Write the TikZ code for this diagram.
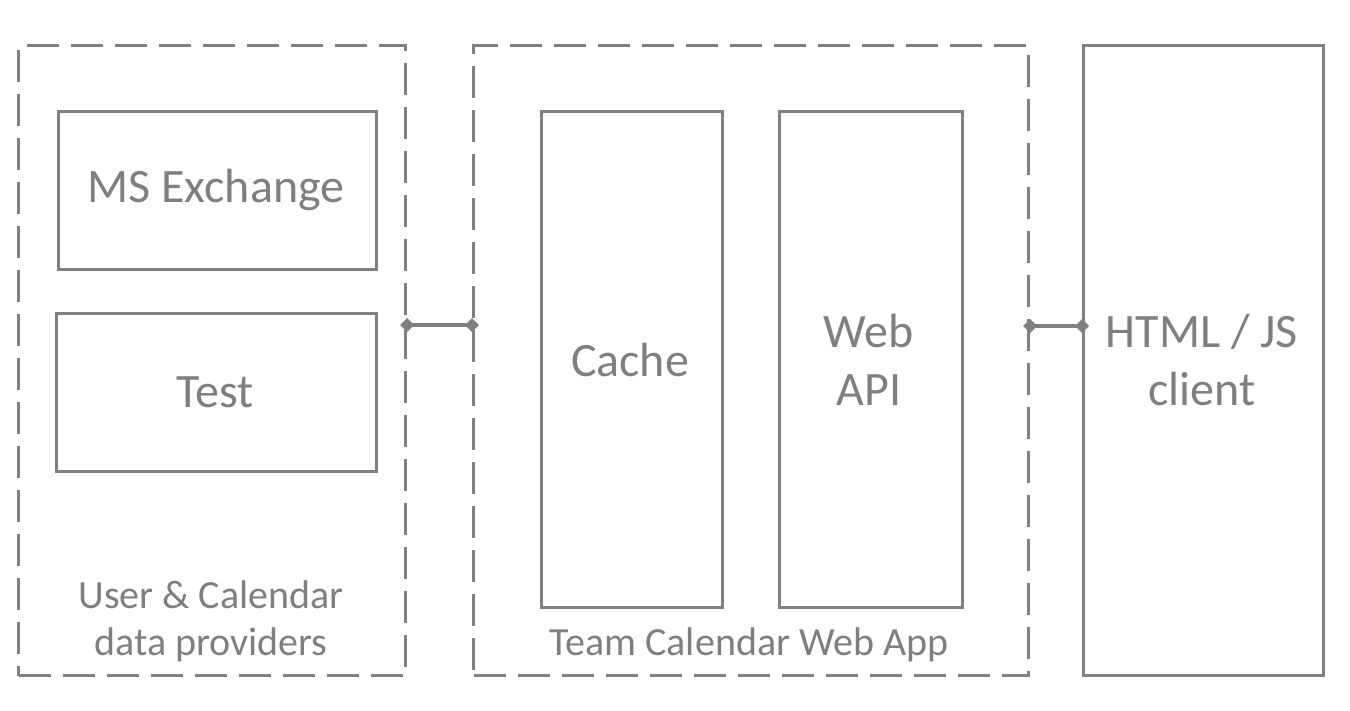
\documentclass[tikz,border=0pt]{standalone}
\usepackage{fontspec}
\setmainfont{Carlito}
\usetikzlibrary{arrows.meta}
\definecolor{lc}{HTML}{808080}
\definecolor{tc}{HTML}{7F7F7F}
\tikzset{
  grpbox/.style={draw=lc, line width=3.2pt, dash pattern=on 32pt off 12pt, rectangle, inner sep=0pt, anchor=north west},
  compbox/.style={draw=lc, line width=3.2pt, rectangle, inner sep=0pt, anchor=north west},
  bigtxt/.style={text=tc, align=center, font=\fontsize{48}{58}\selectfont},
  smalltxt/.style={text=tc, align=center, font=\fontsize{40}{47}\selectfont},
  link/.style={draw=lc, line width=4.5pt, {Diamond[length=14pt,width=14pt]}-{Diamond[length=14pt,width=14pt]}, shorten <=-7pt, shorten >=-7pt}
}
\begin{document}
\begin{tikzpicture}[x=1pt,y=-1pt]
\useasboundingbox (0,0) rectangle (1350,710);
% group boxes
\node[grpbox, minimum width=387pt, minimum height=630pt] (prov) at (17,44) {};
\node[grpbox, minimum width=555pt, minimum height=630pt] (app) at (472,44) {};
\node[compbox, minimum width=240pt, minimum height=630pt] (client) at (1082,44) {};
% inner components
\node[compbox, minimum width=318pt, minimum height=158pt] (msx) at (57,110) {};
\node[compbox, minimum width=320pt, minimum height=158pt] (test) at (55,312) {};
\node[compbox, minimum width=181pt, minimum height=496pt] (cache) at (540,110) {};
\node[compbox, minimum width=183pt, minimum height=496pt] (api) at (778,110) {};
% texts
\node[bigtxt] (msxt) at (216,190) {MS Exchange};
\node[bigtxt] (testt) at (215,392) {Test};
\node[bigtxt] (cachet) at (630,360) {Cache};
\node[bigtxt] (apit) at (869,360) {Web\\API};
\node[bigtxt] (clientt) at (1202,360) {HTML / JS\\client};
\node[smalltxt] (provt) at (211,621) {User \& Calendar\\data providers};
\node[smalltxt] (appt) at (749,645) {Team Calendar Web App};
% connectors
\coordinate (c1) at (prov.east |- 0,325);
\coordinate (c2) at (app.west |- 0,325);
\coordinate (c3) at (app.east |- 0,326);
\coordinate (c4) at (client.west |- 0,326);
\draw[link] (c1) -- (c2);
\draw[link] (c3) -- (c4);
\end{tikzpicture}
\end{document}
